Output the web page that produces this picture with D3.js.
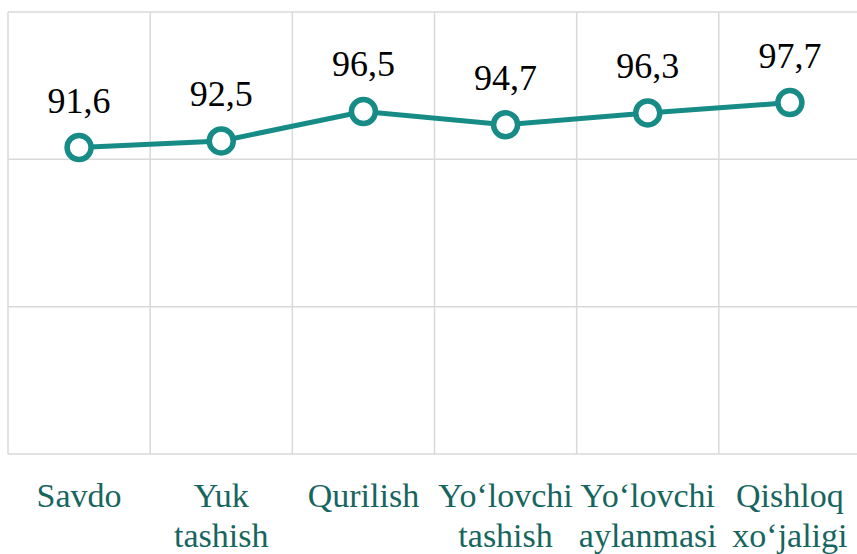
<!DOCTYPE html>
<html>
<head>
<meta charset="utf-8">
<script src="https://cdn.jsdelivr.net/npm/d3@7"></script>
<style>
  body { margin: 0; background: #fff; }
  svg { display: block; }
  svg text { font-family: "Times New Roman", "Liberation Serif", "DejaVu Serif", serif; }
</style>
</head>
<body>
<div class="lineChart"></div>
<script>
// data
var categories = ["Savdo", "Yuk tashish", "Qurilish", "Yo‘lovchi tashish", "Yo‘lovchi aylanmasi", "Qishloq xo‘jaligi"];
var values = [91.6, 92.5, 96.5, 94.7, 96.3, 97.7];
var yTicks = [50, 70, 90, 110];

var width = 857,
    height = 554;
var margin = { top: 12, left: 8, right: -4, bottom: 100 };

var svg = d3.select(".lineChart").append("svg")
    .attr("width", width)
    .attr("height", height);

var x = d3.scaleBand()
    .domain(categories)
    .range([margin.left, width - margin.right]);

var y = d3.scaleLinear()
    .domain([50, 110])
    .range([height - margin.bottom, margin.top]);

var teal = "#178c87";
var gridColor = "#d9d9d9";

// horizontal gridlines
svg.append("g").selectAll("line")
    .data(yTicks)
    .enter().append("line")
    .attr("x1", margin.left)
    .attr("x2", width - margin.right)
    .attr("y1", function(d) { return y(d); })
    .attr("y2", function(d) { return y(d); })
    .attr("stroke", gridColor)
    .attr("stroke-width", 1.5);

// vertical gridlines at category edges
var edges = categories.map(function(c) { return x(c); });
edges.push(x.range()[1]);
svg.append("g").selectAll("line")
    .data(edges)
    .enter().append("line")
    .attr("x1", function(d) { return d; })
    .attr("x2", function(d) { return d; })
    .attr("y1", y(110))
    .attr("y2", y(50))
    .attr("stroke", gridColor)
    .attr("stroke-width", 1.5);

var cx = function(d, i) { return x(categories[i]) + x.bandwidth() / 2; };

var line = d3.line()
    .x(cx)
    .y(function(d) { return y(d); });

svg.append("path")
    .datum(values)
    .attr("fill", "none")
    .attr("stroke", teal)
    .attr("stroke-width", 5)
    .attr("d", line);

svg.append("g").selectAll("circle")
    .data(values)
    .enter().append("circle")
    .attr("cx", cx)
    .attr("cy", function(d) { return y(d); })
    .attr("r", 12)
    .attr("fill", "#fff")
    .attr("stroke", teal)
    .attr("stroke-width", 5.5);

// data labels
svg.append("g").selectAll("text")
    .data(values)
    .enter().append("text")
    .attr("x", cx)
    .attr("y", function(d) { return y(d) - 35; })
    .attr("text-anchor", "middle")
    .attr("font-size", 36)
    .attr("fill", "#000")
    .text(function(d) { return d3.format(".1f")(d).replace(".", ","); });

// category labels
var labels = svg.append("g").selectAll("text")
    .data(categories)
    .enter().append("text")
    .attr("text-anchor", "middle")
    .attr("font-size", 34)
    .attr("fill", "#17655f");

labels.each(function(c) {
    var words = c.split(" ");
    var t = d3.select(this);
    words.forEach(function(w, k) {
        t.append("tspan")
            .attr("x", x(c) + x.bandwidth() / 2)
            .attr("y", 507 + k * 40)
            .text(w);
    });
});
</script>
</body>
</html>
